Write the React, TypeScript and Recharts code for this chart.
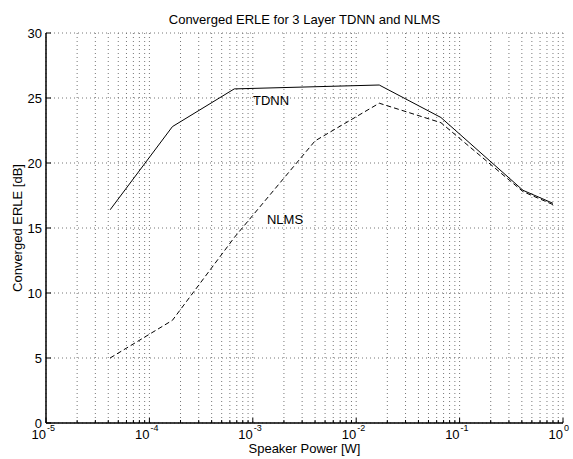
import React from "react"
import {
  LineChart,
  Line,
  XAxis,
  YAxis,
  CartesianGrid,
  ReferenceDot,
} from "recharts"

// speaker power [W] and converged ERLE [dB]
const tdnnPower = [4.17e-5, 1.67e-4, 6.62e-4, 1.67e-2, 6.6e-2, 4.1e-1, 8.0e-1]
const tdnnErle = [16.4, 22.8, 25.7, 26.0, 23.5, 17.9, 16.9]

const nlmsPower = [4.17e-5, 1.67e-4, 6.67e-4, 4.0e-3, 1.67e-2, 6.6e-2, 4.1e-1, 8.0e-1]
const nlmsErle = [5.0, 7.9, 14.3, 21.7, 24.6, 23.1, 17.8, 16.8]

const decades = [1e-5, 1e-4, 1e-3, 1e-2, 1e-1]
const minorSteps = [1, 2, 3, 4, 5, 6, 7, 8, 9]
const xTicks = [...decades.flatMap((d) => minorSteps.map((m) => m * d)), 1]
const yTicks = [0, 5, 10, 15, 20, 25, 30]

const tdnnData = tdnnPower.map((power, i) => ({ power, erle: tdnnErle[i] }))
const nlmsData = nlmsPower.map((power, i) => ({ power, erle: nlmsErle[i] }))

const FONT = "'Liberation Sans', Arial, Helvetica, sans-serif"

const isDecade = (v: number) => {
  const lg = Math.log10(v)
  return Math.abs(lg - Math.round(lg)) < 1e-6
}

function BottomTick(props: any) {
  const { x, y, payload } = props
  const major = isDecade(payload.value)
  const exp = Math.round(Math.log10(payload.value))
  return (
    <g>
      <line x1={x} x2={x} y1={y} y2={y - (major ? 5 : 3)} stroke="#000" />
      {major && (
        <g fontFamily={FONT} fill="#000">
          <text x={x} y={y + 16} textAnchor="end" fontSize={13}>
            10
          </text>
          <text x={x + 1} y={y + 8} textAnchor="start" fontSize={9}>
            {exp}
          </text>
        </g>
      )}
    </g>
  )
}

function TopTick(props: any) {
  const { x, y, payload } = props
  const major = isDecade(payload.value)
  return <line x1={x} x2={x} y1={y} y2={y + (major ? 5 : 3)} stroke="#000" />
}

function LeftTick(props: any) {
  const { x, y, payload } = props
  return (
    <g>
      <line x1={x} x2={x + 5} y1={y} y2={y} stroke="#000" />
      <text
        x={x - 4}
        y={y}
        dy="0.36em"
        textAnchor="end"
        fontSize={13}
        fontFamily={FONT}
        fill="#000"
      >
        {payload.value}
      </text>
    </g>
  )
}

function RightTick(props: any) {
  const { x, y } = props
  return <line x1={x} x2={x - 5} y1={y} y2={y} stroke="#000" />
}

export default function App() {
  return (
    <div style={{ position: "relative", width: 573, height: 459, background: "#fff", fontFamily: FONT }}>
      <style>{`body{margin:0}`}</style>
      <div
        style={{
          position: "absolute",
          left: 46,
          width: 517,
          top: 12,
          textAlign: "center",
          fontSize: 13,
          lineHeight: "16px",
        }}
      >
        Converged ERLE for 3 Layer TDNN and NLMS
      </div>
      <div
        style={{
          position: "absolute",
          left: 46,
          width: 517,
          top: 441,
          textAlign: "center",
          fontSize: 13,
          lineHeight: "16px",
        }}
      >
        Speaker Power [W]
      </div>
      <div
        style={{
          position: "absolute",
          left: 18,
          top: 228,
          width: 200,
          marginLeft: -100,
          marginTop: -8,
          textAlign: "center",
          fontSize: 13,
          lineHeight: "16px",
          transform: "rotate(-90deg)",
        }}
      >
        Converged ERLE [dB]
      </div>
      <div style={{ position: "absolute", left: 0, top: 0 }}>
        <LineChart
          width={573}
          height={459}
          margin={{ top: 33, right: 10, bottom: 0, left: 0 }}
        >
          <CartesianGrid stroke="#777" strokeDasharray="1 3" />
          <XAxis
            dataKey="power"
            type="number"
            scale="log"
            domain={[1e-5, 1]}
            ticks={xTicks}
            interval={0}
            allowDataOverflow
            height={36}
            tickSize={0}
            tickMargin={0}
            tickLine={false}
            axisLine={{ stroke: "#000", strokeWidth: 1.5 }}
            tick={<BottomTick />}
          />
          <XAxis
            xAxisId="top"
            orientation="top"
            dataKey="power"
            type="number"
            scale="log"
            domain={[1e-5, 1]}
            ticks={xTicks}
            interval={0}
            allowDataOverflow
            height={0}
            tickSize={0}
            tickMargin={0}
            tickLine={false}
            axisLine={{ stroke: "#000" }}
            tick={<TopTick />}
          />
          <YAxis
            type="number"
            domain={[0, 30]}
            ticks={yTicks}
            interval={0}
            width={46}
            tickSize={0}
            tickMargin={0}
            tickLine={false}
            axisLine={{ stroke: "#000", strokeWidth: 1.5 }}
            tick={<LeftTick />}
          />
          <YAxis
            yAxisId="right"
            orientation="right"
            type="number"
            domain={[0, 30]}
            ticks={yTicks}
            interval={0}
            width={0}
            tickSize={0}
            tickMargin={0}
            tickLine={false}
            axisLine={{ stroke: "#000" }}
            tick={<RightTick />}
          />
          <Line
            data={tdnnData}
            dataKey="erle"
            type="linear"
            stroke="#000"
            strokeWidth={1}
            dot={false}
            isAnimationActive={false}
          />
          <Line
            data={nlmsData}
            dataKey="erle"
            type="linear"
            stroke="#000"
            strokeWidth={1}
            strokeDasharray="5 3"
            dot={false}
            isAnimationActive={false}
          />
          <ReferenceDot
            x={1.5e-3}
            y={24.8}
            r={1}
            fill="none"
            stroke="none"
            label={{ value: "TDNN", position: "center", fill: "#000", fontSize: 13, fontFamily: FONT }}
          />
          <ReferenceDot
            x={2.05e-3}
            y={15.7}
            r={1}
            fill="none"
            stroke="none"
            label={{ value: "NLMS", position: "center", fill: "#000", fontSize: 13, fontFamily: FONT }}
          />
        </LineChart>
      </div>
    </div>
  )
}
